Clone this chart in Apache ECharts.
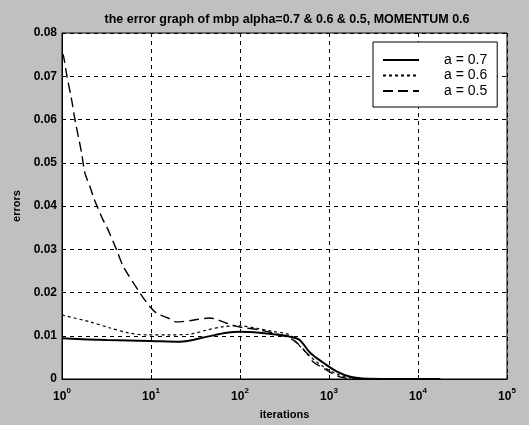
<!DOCTYPE html>
<html>
<head>
<meta charset="utf-8">
<script src="https://cdn.jsdelivr.net/npm/echarts@6/dist/echarts.min.js"></script>
<style>
  html, body { margin: 0; padding: 0; background: #c0c0c0; }
  #chart { width: 529px; height: 425px; }
</style>
</head>
<body>
<div id="chart"></div>
<script>
// iterations (x) and error values
const iterA07 = [1, 3.2, 9.8, 21, 43, 71, 100, 166, 282, 363, 468, 617, 871, 1230, 1738, 2399, 4898, 17783];
const errA07 = [0.0094, 0.0090, 0.0088, 0.0086, 0.0098, 0.0107, 0.0109, 0.0107, 0.0102, 0.0098, 0.0090, 0.0060, 0.0037, 0.0017, 0.0005, 0.0001, 0, 0];

const iterA06 = [1, 2.07, 3.47, 5.75, 9.3, 15.8, 28, 42, 65, 100, 155, 234, 363, 437, 617, 871, 1318, 2042, 3981, 17783];
const errA06 = [0.0148, 0.0132, 0.0118, 0.0106, 0.0102, 0.0102, 0.0104, 0.0113, 0.0121, 0.0123, 0.0117, 0.0110, 0.0102, 0.0083, 0.0052, 0.0028, 0.0009, 0.0001, 0, 0];

const iterA05 = [1, 1.035, 1.13, 1.285, 1.4, 1.66, 1.81, 2.07, 2.25, 2.45, 2.89, 3.18, 4.12, 4.89, 7.52, 9.75, 11.6, 15.5, 19.5, 29.5, 45.7, 70.8, 100, 158, 251, 398, 562, 661, 933, 1318, 2042, 3981, 17783];
const errA05 = [0.0752, 0.0749, 0.0703, 0.0645, 0.0599, 0.0523, 0.0476, 0.0444, 0.0421, 0.0402, 0.0368, 0.0352, 0.0298, 0.0260, 0.0199, 0.0167, 0.0152, 0.0141, 0.0132, 0.0136, 0.0141, 0.0129, 0.0120, 0.0114, 0.0105, 0.0090, 0.0060, 0.0040, 0.0021, 0.0005, 0, 0, 0];

const seriesNames = ["a = 0.7", "a = 0.6", "a = 0.5"];
const yTicks = [0, 0.01, 0.02, 0.03, 0.04, 0.05, 0.06, 0.07, 0.08];

function pairs(xs, ys) {
  return xs.map((x, i) => [x, ys[i]]);
}

const myChart = echarts.init(document.getElementById("chart"));

const option = {
  backgroundColor: "#c0c0c0",
  animation: false,
  title: {
    text: "the error graph of mbp alpha=0.7 & 0.6 & 0.5, MOMENTUM 0.6",
    left: 282,
    top: 8,
    textAlign: "center",
    textStyle: { fontFamily: "Arial", fontSize: 12.5, fontWeight: "bold", color: "#000" },
  },
  grid: {
    left: 62,
    right: 22,
    top: 33,
    bottom: 46,
    show: true,
    backgroundColor: "#fff",
    borderColor: "#000",
    borderWidth: 1,
  },
  legend: {
    orient: "vertical",
    left: 373,
    top: 42,
    padding: [11, 10, 9, 9],
    itemWidth: 36,
    itemHeight: 14,
    itemGap: 1.5,
    backgroundColor: "#fff",
    borderColor: "#000",
    borderWidth: 1,
    borderRadius: 0,
    itemStyle: { opacity: 0 },
    data: seriesNames,
    textStyle: { fontFamily: "Arial", fontSize: 14, color: "#000", padding: [0, 0, 0, 20] },
  },
  xAxis: {
    type: "log",
    logBase: 10,
    min: 1,
    max: 100000,
    name: "iterations",
    nameLocation: "middle",
    nameGap: 30,
    nameTextStyle: { fontFamily: "Arial", fontSize: 11, fontWeight: "bold", color: "#000" },
    axisLine: { lineStyle: { color: "#000" } },
    axisTick: { inside: true, length: 4, lineStyle: { color: "#000" } },
    minorTick: { show: false },
    splitLine: { show: true, lineStyle: { color: "#000", type: [4, 4], width: 1 } },
    axisLabel: {
      margin: 8,
      formatter: function (v) {
        const p = Math.round(Math.log10(v));
        return "{b|10}{s|" + p + "}";
      },
      rich: {
        b: { fontFamily: "Arial", fontSize: 12, fontWeight: "bold", color: "#000", verticalAlign: "bottom" },
        s: { fontFamily: "Arial", fontSize: 8, fontWeight: "bold", color: "#000", verticalAlign: "top", padding: [0, 0, 8, 0] },
      },
    },
  },
  yAxis: {
    type: "value",
    min: 0,
    max: 0.08,
    interval: 0.01,
    name: "errors",
    nameLocation: "middle",
    nameGap: 38,
    nameTextStyle: { fontFamily: "Arial", fontSize: 11, fontWeight: "bold", color: "#000" },
    axisLine: { show: true, lineStyle: { color: "#000" } },
    axisTick: { show: true, inside: true, length: 4, lineStyle: { color: "#000" } },
    splitLine: { show: true, lineStyle: { color: "#000", type: [4, 4], width: 1 } },
    axisLabel: {
      margin: 5,
      fontFamily: "Arial",
      fontSize: 12,
      fontWeight: "bold",
      color: "#000",
      formatter: function (v) {
        const t = yTicks.find((k) => Math.abs(k - v) < 1e-9);
        return t === 0 ? "0" : String(+v.toFixed(2));
      },
    },
  },
  series: [
    {
      name: seriesNames[0],
      type: "line",
      data: pairs(iterA07, errA07),
      showSymbol: false,
      symbol: "none",
      smooth: 0.3,
      itemStyle: { color: "#000", opacity: 0 },
      lineStyle: { color: "#000", width: 2, type: "solid", opacity: 1 },
    },
    {
      name: seriesNames[1],
      type: "line",
      data: pairs(iterA06, errA06),
      showSymbol: false,
      symbol: "none",
      smooth: 0.3,
      itemStyle: { color: "#000", opacity: 0 },
      lineStyle: { color: "#000", width: 1.2, type: [3, 3], opacity: 1 },
    },
    {
      name: seriesNames[2],
      type: "line",
      data: pairs(iterA05, errA05),
      showSymbol: false,
      symbol: "none",
      smooth: 0.3,
      itemStyle: { color: "#000", opacity: 0 },
      lineStyle: { color: "#000", width: 1.4, type: [10, 5], opacity: 1 },
    },
  ],
};

myChart.setOption(option, true);
</script>
</body>
</html>
